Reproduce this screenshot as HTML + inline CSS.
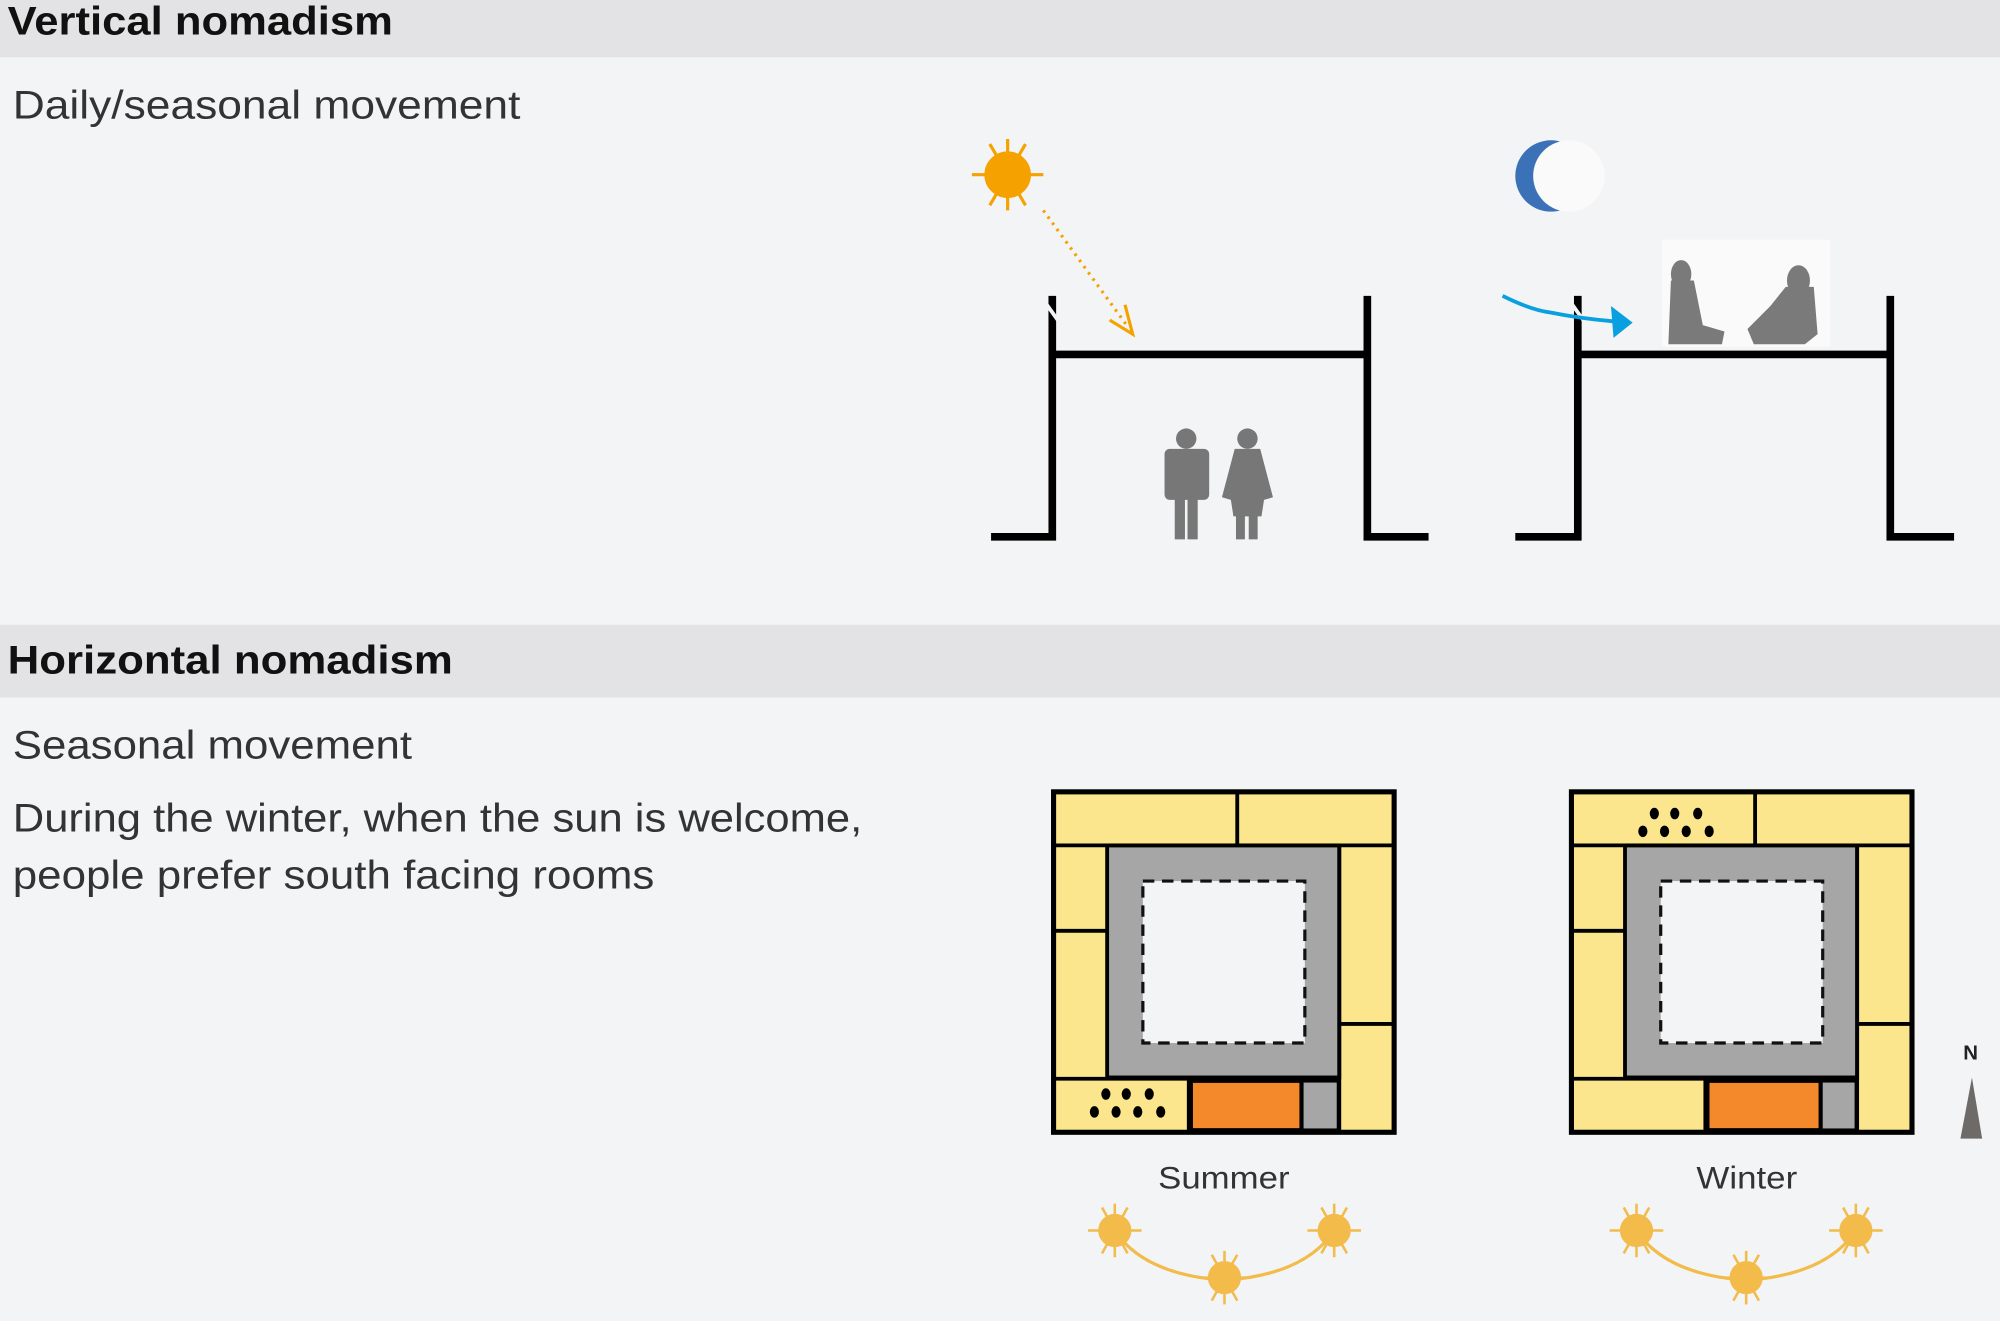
<!DOCTYPE html>
<html><head><meta charset="utf-8"><style>
html,body{margin:0;padding:0;background:#f3f4f6;}
svg{display:block;}
text{font-family:"Liberation Sans",sans-serif;}
</style></head><body>
<svg width="2000" height="1321" viewBox="0 0 1568 1036" preserveAspectRatio="none" xmlns="http://www.w3.org/2000/svg">
<defs>
<g id="ray">
<line x1="0" y1="-28" x2="0" y2="28"/><line x1="-28" y1="0" x2="28" y2="0"/>
<line x1="-14" y1="-24" x2="14" y2="24"/><line x1="14" y1="-24" x2="-14" y2="24"/>
</g>
<g id="ysun" fill="#f2bb4a" stroke="#f2bb4a" stroke-width="2">
<circle r="12"/>
<line x1="0" y1="-21" x2="0" y2="21"/><line x1="-21" y1="0" x2="21" y2="0"/>
<line x1="-10" y1="-18" x2="10" y2="18"/><line x1="10" y1="-18" x2="-10" y2="18"/>
</g>
<g id="dots" fill="#000">
<ellipse cx="14" cy="8" rx="3.6" ry="4.5"/><ellipse cx="30" cy="8" rx="3.6" ry="4.5"/><ellipse cx="48" cy="8" rx="3.6" ry="4.5"/>
<ellipse cx="5" cy="22" rx="3.6" ry="4.5"/><ellipse cx="22" cy="22" rx="3.6" ry="4.5"/><ellipse cx="39" cy="22" rx="3.6" ry="4.5"/><ellipse cx="57" cy="22" rx="3.6" ry="4.5"/>
</g>
</defs>
<rect width="1568" height="1036" fill="#f3f4f6"/>
<rect x="0" y="0" width="1568" height="45" fill="#e3e3e5"/>
<rect x="0" y="490" width="1568" height="57" fill="#e3e3e5"/>
<text x="6" y="27" font-size="31" font-weight="bold" fill="#111" textLength="302" lengthAdjust="spacingAndGlyphs">Vertical nomadism</text>
<text x="10" y="93" font-size="31" fill="#333" textLength="398" lengthAdjust="spacingAndGlyphs">Daily/seasonal movement</text>
<text x="6" y="528" font-size="31" font-weight="bold" fill="#111" textLength="349" lengthAdjust="spacingAndGlyphs">Horizontal nomadism</text>
<text x="10" y="595" font-size="31" fill="#333" textLength="313" lengthAdjust="spacingAndGlyphs">Seasonal movement</text>
<text x="10" y="652" font-size="31" fill="#333" textLength="666" lengthAdjust="spacingAndGlyphs">During the winter, when the sun is welcome,</text>
<text x="10" y="697" font-size="31" fill="#333" textLength="503" lengthAdjust="spacingAndGlyphs">people prefer south facing rooms</text>

<g stroke="#000" stroke-width="6" fill="none">
<path d="M777 421 H828 M825 232 V424 M825 278 H1072 M1072 232 V424 M1069 421 H1120"/>
<path d="M1188 421 H1240 M1237 232 V424 M1237 278 H1482 M1482 232 V424 M1479 421 H1532"/>
</g>
<line x1="820" y1="238" x2="830" y2="252" stroke="#f3f4f6" stroke-width="3"/>
<line x1="1232" y1="238" x2="1242" y2="252" stroke="#f3f4f6" stroke-width="3"/>
<g transform="translate(790,137)" stroke="#f5a200" stroke-width="2.5" fill="#f5a200"><use href="#ray"/><circle r="17"/></g>
<line x1="818" y1="165" x2="884" y2="256" stroke="#f5a200" stroke-width="2.5" stroke-dasharray="2,4"/>
<path d="M870 251 L888 262 L882 239" fill="none" stroke="#f5a200" stroke-width="2.5"/>
<circle cx="1216" cy="138" r="28" fill="#3b71b7"/>
<circle cx="1230" cy="138" r="28" fill="#fafafa"/>
<path d="M1178 232 Q1200 243 1215 245 Q1240 250 1265 252" fill="none" stroke="#0aa0e0" stroke-width="3"/>
<polygon points="1263,240 1280,253 1265,265" fill="#0aa0e0"/>
<g fill="#777">
<circle cx="930" cy="344" r="8"/>
<rect x="913" y="352" width="35" height="40" rx="4"/>
<rect x="921" y="390" width="8" height="33"/><rect x="931" y="390" width="8" height="33"/>
<circle cx="978" cy="344" r="8"/>
<path d="M968 352 H988 L998 390 L991 392 L989 405 H967 L965 392 L958 390 Z"/>
<rect x="969" y="400" width="7" height="23"/><rect x="979" y="400" width="7" height="23"/>
</g>
<rect x="1303" y="188" width="132" height="84" fill="#fafafa"/>
<g fill="#7a7a7a">
<ellipse cx="1318" cy="215" rx="8" ry="11"/>
<path d="M1310 220 H1328 L1335 255 L1352 260 L1350 270 H1308 Z"/>
<ellipse cx="1410" cy="220" rx="9" ry="12"/>
<path d="M1400 225 H1422 L1425 262 L1415 270 H1375 L1370 258 L1388 240 Z"/>
</g>

<g id="plan">
<rect x="826" y="621" width="267" height="267" fill="#fbe58d" stroke="#000" stroke-width="4"/>
<rect x="868" y="663" width="182" height="182" fill="#a5a6a5" stroke="#000" stroke-width="3"/>
<rect x="896" y="691" width="127" height="127" fill="#f3f4f6" stroke="#111" stroke-width="2.5" stroke-dasharray="9,6"/>
<g stroke="#000" stroke-width="3">
<line x1="826" y1="663" x2="1093" y2="663"/>
<line x1="826" y1="730" x2="868" y2="730"/>
<line x1="1050" y1="803" x2="1093" y2="803"/>
<line x1="1050" y1="663" x2="1050" y2="888"/>
<line x1="826" y1="846" x2="1050" y2="846"/>
</g>
</g>
<use href="#plan" x="406"/>
<line x1="970" y1="621" x2="970" y2="663" stroke="#000" stroke-width="3"/>
<rect x="934" y="848" width="86" height="38" fill="#f4892c" stroke="#000" stroke-width="2.5"/>
<rect x="1021" y="848" width="28" height="38" fill="#a5a6a5" stroke="#000" stroke-width="2"/>
<line x1="932" y1="846" x2="932" y2="888" stroke="#000" stroke-width="3"/>
<use href="#dots" x="853" y="850"/>
<line x1="1376" y1="621" x2="1376" y2="663" stroke="#000" stroke-width="3"/>
<rect x="1339" y="848" width="88" height="38" fill="#f4892c" stroke="#000" stroke-width="2.5"/>
<rect x="1428" y="848" width="27" height="38" fill="#a5a6a5" stroke="#000" stroke-width="2"/>
<line x1="1337" y1="846" x2="1337" y2="888" stroke="#000" stroke-width="3"/>
<use href="#dots" x="1283" y="630"/>

<text x="908" y="932" font-size="25" fill="#333" textLength="103" lengthAdjust="spacingAndGlyphs">Summer</text>
<text x="1330" y="932" font-size="25" fill="#333" textLength="79" lengthAdjust="spacingAndGlyphs">Winter</text>
<text x="1545" y="831" font-size="16" font-weight="bold" fill="#222" text-anchor="middle">N</text>
<polygon points="1546,845 1554,893 1537,893" fill="#6e6a67"/>

<path d="M876 968 Q900 1000 960 1004 Q1020 1000 1044 968" fill="none" stroke="#f2bb4a" stroke-width="2.5"/>
<use href="#ysun" x="874" y="965"/><use href="#ysun" x="960" y="1002"/><use href="#ysun" x="1046" y="965"/>
<path d="M1285 968 Q1309 1000 1369 1004 Q1429 1000 1453 968" fill="none" stroke="#f2bb4a" stroke-width="2.5"/>
<use href="#ysun" x="1283" y="965"/><use href="#ysun" x="1369" y="1002"/><use href="#ysun" x="1455" y="965"/>
</svg>
</body></html>
